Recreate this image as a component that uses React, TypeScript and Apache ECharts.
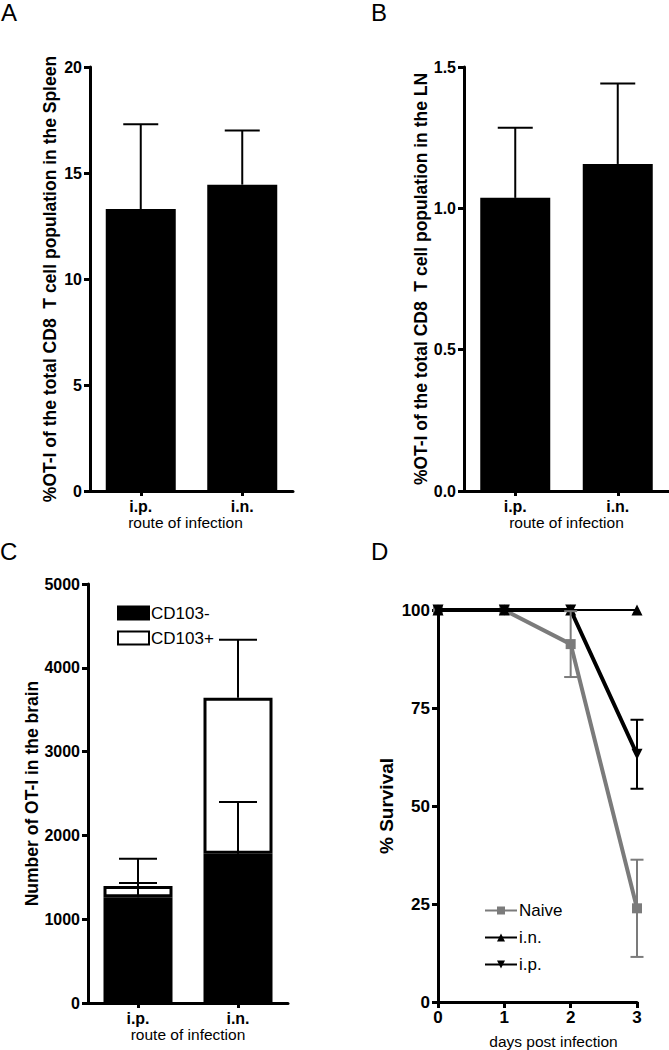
import React, { useEffect, useRef } from "react";
import * as echarts from "echarts";

const FONT = "'Liberation Sans', Arial, Helvetica, sans-serif";

// Panel A – spleen
const routes = ["i.p.", "i.n."];
const spleenMean = [13.3, 14.45];
const spleenErr = [4.0, 2.55];
// Panel B – lymph node
const lnMean = [1.037, 1.157];
const lnErr = [0.248, 0.285];
// Panel C – brain
const cd103Neg = [1262, 1782];
const cd103Pos = [134, 1861];
const cd103NegErr = [171, 617];
const totalErr = [325, 693];
// Panel D – survival
const days = [0, 1, 2, 3];
const naive = [100, 100, 91.3, 23.9];
const naiveErr = [0, 0, 8.4, 12.4];
const inSurv = [100, 100, 100, 100];
const ipSurv = [100, 100, 100, 63.2];
const ipErr = [0, 0, 0, 8.8];

const GRAY = "#7b7b7b";

function upErr(cap: number, color = "#000") {
  return (params: any, api: any) => {
    const x = api.value(0);
    const lo = api.coord([x, api.value(1)]);
    const hi = api.coord([x, api.value(2)]);
    const st = { stroke: color, lineWidth: 2 };
    return {
      type: "group",
      children: [
        { type: "line", shape: { x1: lo[0], y1: lo[1], x2: hi[0], y2: hi[1] }, style: st },
        { type: "line", shape: { x1: hi[0] - cap, y1: hi[1], x2: hi[0] + cap, y2: hi[1] }, style: st },
      ],
    };
  };
}
function symErr(cap: number, color: string) {
  return (params: any, api: any) => {
    const x = api.value(0);
    const lo = api.coord([x, api.value(1)]);
    const hi = api.coord([x, api.value(2)]);
    const st = { stroke: color, lineWidth: 2 };
    return {
      type: "group",
      children: [
        { type: "line", shape: { x1: lo[0], y1: lo[1], x2: hi[0], y2: hi[1] }, style: st },
        { type: "line", shape: { x1: hi[0] - cap, y1: hi[1], x2: hi[0] + cap, y2: hi[1] }, style: st },
        { type: "line", shape: { x1: lo[0] - cap, y1: lo[1], x2: lo[0] + cap, y2: lo[1] }, style: st },
      ],
    };
  };
}

const axisLineStyle = { lineStyle: { color: "#000", width: 3 } };
const tickStyle = { show: true, length: 6, lineStyle: { color: "#000", width: 3 } };

function catAxis(gridIndex: number, name: string, padding: number[]) {
  return {
    type: "category",
    gridIndex,
    data: routes,
    axisLine: axisLineStyle,
    axisTick: { ...tickStyle, alignWithLabel: true, length: 5 },
    axisLabel: { color: "#000", fontWeight: "bold", fontSize: 16, fontFamily: FONT, margin: 7 },
    name,
    nameLocation: "middle",
    nameGap: 22,
    nameTextStyle: { color: "#000", fontSize: 15.5, fontFamily: FONT, padding },
  };
}
function valAxis(gridIndex: number, max: number, interval: number, name: string, nameGap: number, fontSize: number, labelSize: number, fmt: (v: number) => string) {
  return {
    type: "value",
    gridIndex,
    min: 0,
    max,
    interval,
    splitLine: { show: false },
    axisLine: { show: true, ...axisLineStyle },
    axisTick: tickStyle,
    axisLabel: { color: "#000", fontWeight: "bold", fontSize: labelSize, fontFamily: FONT, margin: 8, formatter: fmt },
    name,
    nameLocation: "middle",
    nameGap,
    nameTextStyle: { color: "#000", fontWeight: "bold", fontSize, fontFamily: FONT },
  };
}

export default function App() {
  const ref = useRef<HTMLDivElement>(null);
  useEffect(() => {
    if (!ref.current) return;
    const chart = echarts.init(ref.current, null, { renderer: "svg" });
    const plain = (v: number) => String(v);
    const option: any = {
      animation: false,
      backgroundColor: "#fff",
      textStyle: { fontFamily: FONT },
      grid: [
        { left: 90, top: 67, width: 203, height: 424 },
        { left: 464, top: 67, width: 205, height: 424 },
        { left: 88, top: 584, width: 200, height: 419 },
        { left: 438, top: 610, width: 199, height: 393 },
      ],
      xAxis: [
        catAxis(0, "route of infection", [0, 12, 0, 0]),
        catAxis(1, "route of infection", [0, 0, 0, 0]),
        { ...catAxis(2, "route of infection", [0, 0, 0, 0]), nameGap: 21 },
        {
          type: "value",
          gridIndex: 3,
          min: 0,
          max: 3,
          interval: 1,
          splitLine: { show: false },
          axisLine: axisLineStyle,
          axisTick: tickStyle,
          axisLabel: { color: "#000", fontWeight: "bold", fontSize: 17, fontFamily: FONT, margin: 7 },
          name: "days post infection",
          nameLocation: "middle",
          nameGap: 31,
          nameTextStyle: { color: "#000", fontSize: 15.5, fontFamily: FONT, padding: [0, 0, 0, 32] },
        },
      ],
      yAxis: [
        valAxis(0, 20, 5, "%OT-I of the total CD8  T cell population in the Spleen", 31, 17.5, 16, plain),
        valAxis(1, 1.5, 0.5, "%OT-I of the total CD8  T cell population in the LN", 33, 17.5, 16, (v: number) => v.toFixed(1)),
        valAxis(2, 5000, 1000, "Number of OT-I in the brain", 46, 17.5, 16, plain),
        valAxis(3, 100, 25, "% Survival", 42, 19, 17, plain),
      ],
      legend: [
        {
          data: [
            { name: "CD103-", icon: "rect" },
            { name: "CD103+", icon: "rect" },
          ],
          orient: "vertical",
          left: 112,
          top: 599,
          itemWidth: 31,
          itemHeight: 13,
          itemGap: 7,
          textStyle: { fontSize: 17, color: "#000", fontFamily: FONT, lineHeight: 18, padding: [0, 0, 0, -3] },
        },
        {
          data: ["Naive", "i.n.", "i.p."],
          orient: "vertical",
          left: 479,
          top: 897,
          itemWidth: 32,
          itemHeight: 10,
          itemGap: 10,
          textStyle: { fontSize: 17, color: "#000", fontFamily: FONT, lineHeight: 17, padding: [0, 0, 0, -3] },
        },
      ],
      graphic: [
        { type: "text", left: 1, top: 0, style: { text: "A", fontSize: 24, fontFamily: FONT, fill: "#000" } },
        { type: "text", left: 371, top: 0, style: { text: "B", fontSize: 24, fontFamily: FONT, fill: "#000" } },
        { type: "text", left: 0, top: 539, style: { text: "C", fontSize: 24, fontFamily: FONT, fill: "#000" } },
        { type: "text", left: 371, top: 539, style: { text: "D", fontSize: 24, fontFamily: FONT, fill: "#000" } },
      ],
      series: [
        { type: "bar", xAxisIndex: 0, yAxisIndex: 0, data: spleenMean, barWidth: 70, itemStyle: { color: "#000" } },
        {
          type: "custom",
          xAxisIndex: 0,
          yAxisIndex: 0,
          z: 5,
          renderItem: upErr(17.5),
          data: spleenMean.map((m, i) => [i, m, m + spleenErr[i]]),
        },
        { type: "bar", xAxisIndex: 1, yAxisIndex: 1, data: lnMean, barWidth: 70, itemStyle: { color: "#000" } },
        {
          type: "custom",
          xAxisIndex: 1,
          yAxisIndex: 1,
          z: 5,
          renderItem: upErr(17.5),
          data: lnMean.map((m, i) => [i, m, m + lnErr[i]]),
        },
        {
          name: "CD103-",
          type: "bar",
          xAxisIndex: 2,
          yAxisIndex: 2,
          stack: "brain",
          data: cd103Neg,
          barWidth: 69,
          itemStyle: { color: "#000", borderColor: "#000", borderWidth: 3 },
        },
        {
          name: "CD103+",
          type: "bar",
          xAxisIndex: 2,
          yAxisIndex: 2,
          stack: "brain",
          data: cd103Pos,
          barWidth: 69,
          itemStyle: { color: "#fff", borderColor: "#000", borderWidth: 3 },
        },
        {
          type: "custom",
          xAxisIndex: 2,
          yAxisIndex: 2,
          z: 5,
          renderItem: upErr(19),
          data: [
            ...cd103Neg.map((m, i) => [i, m, m + cd103NegErr[i]]),
            ...cd103Neg.map((m, i) => [i, m + cd103Pos[i], m + cd103Pos[i] + totalErr[i]]),
          ],
        },
        {
          name: "Naive",
          type: "line",
          xAxisIndex: 3,
          yAxisIndex: 3,
          z: 2,
          clip: false,
          data: days.map((d, i) => [d, naive[i]]),
          symbol: "rect",
          symbolSize: 10,
          lineStyle: { color: GRAY, width: 4 },
          itemStyle: { color: GRAY },
        },
        {
          name: "i.n.",
          type: "line",
          xAxisIndex: 3,
          yAxisIndex: 3,
          z: 3,
          clip: false,
          data: days.map((d, i) => [d, inSurv[i]]),
          symbol: "triangle",
          symbolSize: 11,
          lineStyle: { color: "#000", width: 2 },
          itemStyle: { color: "#000" },
        },
        {
          name: "i.p.",
          type: "line",
          xAxisIndex: 3,
          yAxisIndex: 3,
          z: 4,
          clip: false,
          data: days.map((d, i) => [d, ipSurv[i]]),
          symbol: "path://M0,0 L10,0 L5,9 Z",
          symbolSize: 11,
          lineStyle: { color: "#000", width: 4 },
          itemStyle: { color: "#000" },
        },
        {
          type: "custom",
          xAxisIndex: 3,
          yAxisIndex: 3,
          z: 5,
          clip: false,
          renderItem: symErr(6.5, GRAY),
          data: days
            .map((d, i) => [d, naive[i] - naiveErr[i], naive[i] + naiveErr[i]])
            .filter((r, i) => naiveErr[i] > 0),
        },
        {
          type: "custom",
          xAxisIndex: 3,
          yAxisIndex: 3,
          z: 5,
          clip: false,
          renderItem: symErr(6.5, "#000"),
          data: days
            .map((d, i) => [d, ipSurv[i] - ipErr[i], ipSurv[i] + ipErr[i]])
            .filter((r, i) => ipErr[i] > 0),
        },
      ],
    };
    chart.setOption(option);
    return () => chart.dispose();
  }, []);
  return (
    <div
      ref={ref}
      style={{ position: "absolute", left: 0, top: 0, width: 669, height: 1050, background: "#fff" }}
    />
  );
}
